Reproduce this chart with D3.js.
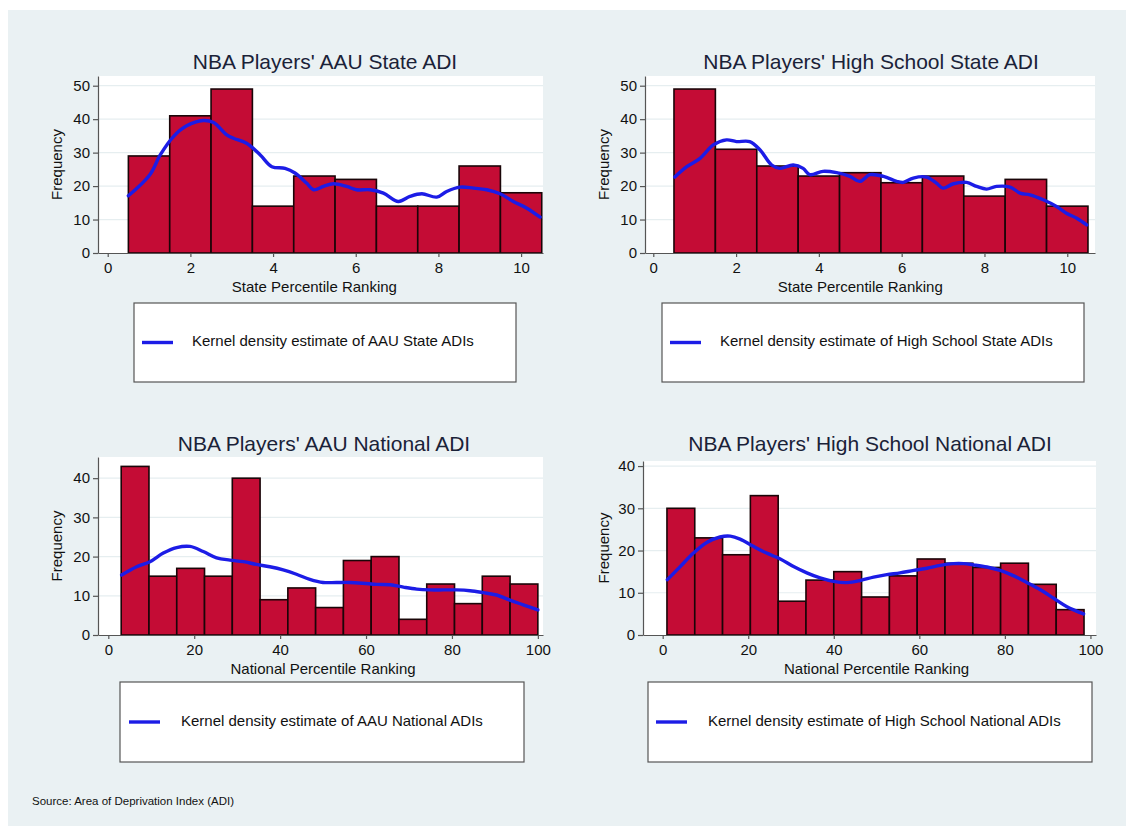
<!doctype html>
<html lang="en">
<head>
<meta charset="utf-8">
<title>NBA Players' ADI</title>
<style>
  html, body { margin: 0; padding: 0; background: #ffffff; }
  svg { display: block; font-family: "Liberation Sans", Arial, Helvetica, sans-serif; }
</style>
</head>
<body>
<svg id="chart" width="1126" height="826"></svg>
<script src="https://cdn.jsdelivr.net/npm/d3@7/dist/d3.min.js"></script>
<script>
// bin counts
var aauStateCounts = [29, 41, 49, 14, 23, 22, 14, 14, 26, 18];
var hsStateCounts  = [49, 31, 26, 23, 24, 21, 23, 17, 22, 14];
var aauNatCounts   = [43, 15, 17, 15, 40, 9, 12, 7, 19, 20, 4, 13, 8, 15, 13];
var hsNatCounts    = [30, 23, 19, 33, 8, 13, 15, 9, 14, 18, 17, 16, 17, 12, 6];

// bin ranges [first edge, last edge]
var aauStateRange = [0.5, 10.5];
var hsStateRange  = [0.5, 10.5];
var aauNatRange   = [3, 100];
var hsNatRange    = [1, 98.5];

// kernel density curves (scaled to frequency)
var aauStateKdeX = [0.5,1.02,1.27,1.59,1.91,2.31,2.56,2.88,3.04,3.36,3.69,3.97,4.29,4.53,4.81,4.98,5.22,5.46,5.78,6.02,6.35,6.67,7.03,7.31,7.6,7.96,8.2,8.52,8.85,9.17,9.49,9.81,10.14,10.46];
var aauStateKdeY = [17.1,23.4,29.3,34.8,38,39.6,39,35.3,34.3,32.8,29.3,25.8,25.3,23.9,20.9,18.9,19.9,20.7,19.9,18.9,18.9,17.9,15.4,16.9,17.7,16.7,18.4,19.7,19.4,18.9,17.7,15.4,13.4,10.7];

var hsStateKdeX = [0.52,0.81,1.13,1.45,1.77,2.01,2.33,2.58,2.86,3.06,3.38,3.62,3.78,4.1,4.43,4.75,4.99,5.23,5.56,5.88,6.04,6.28,6.6,6.84,7.0,7.25,7.57,7.81,8.05,8.29,8.62,8.86,9.1,9.42,9.74,9.98,10.23,10.47];
var hsStateKdeY = [22.7,25.8,28.3,32.3,33.8,33.3,33.3,30.8,26.3,25.3,26.3,25.3,23.4,24.4,24,22.9,21.4,23.4,22.9,21.4,21.1,22.4,22.7,20.9,19.4,20.7,21.1,19.9,19.1,19.9,19.7,17.9,17.4,15.9,13.9,11.9,10.4,8.4];

var aauNatKdeX = [3.1,6.6,9.7,12.8,15.9,19,22.1,25.2,28.3,31.4,34.5,37.6,40.7,43.8,46.9,50,53.1,56.2,59.3,62.5,65.6,68.7,71.8,74.9,78,81.1,84.2,87.3,90.4,93.5,96.6,100];
var aauNatKdeY = [15.3,17.4,18.7,20.9,22.3,22.6,21.3,19.7,19.1,18.7,18,17.4,16.6,15.5,14.2,13.4,13.4,13.4,13.2,12.9,12.8,12.2,11.7,11.5,11.5,11.5,11.3,10.8,10.2,8.9,7.7,6.4];

var hsNatKdeX = [1.1,4.1,7.2,10.3,13.4,15.8,18.1,21.2,24.3,27.5,30.6,33.7,36.8,39.9,43.1,46.2,49.3,52.4,55.5,58.7,61.8,64.9,68,70.4,72.7,75.8,78.9,82.1,85.2,88.3,91.4,94.5,98.4];
var hsNatKdeY = [13.1,16.2,19.4,21.9,23.2,23.4,22.7,21,19.4,18,16.2,14.7,13.5,12.7,12.4,12.9,13.7,14.3,14.7,15.3,15.8,16.5,16.9,16.9,16.6,16.1,15.3,14,12.4,10.7,8.7,6.7,5];

var stateTicks = [0, 2, 4, 6, 8, 10];
var natTicks = [0, 20, 40, 60, 80, 100];
var freqTicks50 = [0, 10, 20, 30, 40, 50];
var freqTicks40 = [0, 10, 20, 30, 40];

var titles = ["NBA Players' AAU State ADI", "NBA Players' High School State ADI",
              "NBA Players' AAU National ADI", "NBA Players' High School National ADI"];
var legendLabels = ["Kernel density estimate of AAU State ADIs",
                    "Kernel density estimate of High School State ADIs",
                    "Kernel density estimate of AAU National ADIs",
                    "Kernel density estimate of High School National ADIs"];

var BAR = "#c40c35", KDE = "#1c1ce6", INK = "#111", BG = "#eaf1f3";

var panels = [
  { counts: aauStateCounts, range: aauStateRange, kx: aauStateKdeX, ky: aauStateKdeY,
    xt: stateTicks, yt: freqTicks50, xlab: "State Percentile Ranking",
    box: { l: 98, r: 543, t: 76, b: 253 }, xd: [-0.235, 10.53], yd: [0, 52.9],
    titleX: 325, titleY: 69, freqX: 58,
    leg: { l: 134, r: 516, t: 303, b: 382, line: 142, text: 192 } },
  { counts: hsStateCounts, range: hsStateRange, kx: hsStateKdeX, ky: hsStateKdeY,
    xt: stateTicks, yt: freqTicks50, xlab: "State Percentile Ranking",
    box: { l: 645, r: 1095, t: 76, b: 253 }, xd: [-0.2, 10.67], yd: [0, 52.9],
    titleX: 871, titleY: 69, freqX: 605,
    leg: { l: 662, r: 1084, t: 303, b: 382, line: 670, text: 720 } },
  { counts: aauNatCounts, range: aauNatRange, kx: aauNatKdeX, ky: aauNatKdeY,
    xt: natTicks, yt: freqTicks40, xlab: "National Percentile Ranking",
    box: { l: 98, r: 543, t: 457, b: 635 }, xd: [-2.4, 101.2], yd: [0, 45.4],
    titleX: 324, titleY: 451, freqX: 58,
    leg: { l: 120, r: 524, t: 682, b: 762, line: 129, text: 181 } },
  { counts: hsNatCounts, range: hsNatRange, kx: hsNatKdeX, ky: hsNatKdeY,
    xt: natTicks, yt: freqTicks40, xlab: "National Percentile Ranking",
    box: { l: 643, r: 1096, t: 461, b: 635 }, xd: [-4.6, 101.3], yd: [0, 41.2],
    titleX: 870, titleY: 451, freqX: 605,
    leg: { l: 648, r: 1092, t: 682, b: 762, line: 656, text: 708 } }
];

var svg = d3.select("#chart");

// graph region background
svg.append("rect").attr("x", 8).attr("y", 10).attr("width", 1118).attr("height", 816).attr("fill", BG);

panels.forEach(function(p, i) {
  var x = d3.scaleLinear().domain(p.xd).range([p.box.l, p.box.r]);
  var y = d3.scaleLinear().domain(p.yd).range([p.box.b, p.box.t]);
  var g = svg.append("g");

  // plot region
  g.append("rect")
    .attr("x", p.box.l).attr("y", p.box.t)
    .attr("width", p.box.r - p.box.l).attr("height", p.box.b - p.box.t)
    .attr("fill", "#fff");

  // grid
  g.selectAll("line.grid")
    .data(p.yt.filter(function(d) { return d > 0; }))
    .enter().append("line")
    .attr("x1", p.box.l).attr("x2", p.box.r)
    .attr("y1", function(d) { return y(d); }).attr("y2", function(d) { return y(d); })
    .attr("stroke", "#e6eef0").attr("stroke-width", 1.2);

  // bars
  var w = (p.range[1] - p.range[0]) / p.counts.length;
  g.selectAll("rect.bar")
    .data(p.counts)
    .enter().append("rect")
    .attr("class", "bar")
    .attr("x", function(d, j) { return x(p.range[0] + j * w); })
    .attr("y", function(d) { return y(d); })
    .attr("width", function(d, j) { return x(p.range[0] + (j + 1) * w) - x(p.range[0] + j * w); })
    .attr("height", function(d) { return y(0) - y(d); })
    .attr("fill", BAR)
    .attr("stroke", "#1a0508")
    .attr("stroke-width", 1.6);

  // kernel density
  var pts = p.kx.map(function(v, j) { return [v, p.ky[j]]; });
  g.append("path")
    .datum(pts)
    .attr("fill", "none")
    .attr("stroke", KDE)
    .attr("stroke-width", 3.4)
    .attr("stroke-linejoin", "round")
    .attr("stroke-linecap", "round")
    .attr("d", d3.line()
      .curve(d3.curveCatmullRom)
      .x(function(d) { return x(d[0]); })
      .y(function(d) { return y(d[1]); }));

  // axes
  var ya = g.append("g")
    .attr("transform", "translate(" + p.box.l + ",0)")
    .call(d3.axisLeft(y).tickValues(p.yt).tickSize(5).tickSizeOuter(0).tickPadding(3));
  var xa = g.append("g")
    .attr("transform", "translate(0," + p.box.b + ")")
    .call(d3.axisBottom(x).tickValues(p.xt).tickSize(4).tickSizeOuter(0).tickPadding(5));
  [ya, xa].forEach(function(a) {
    a.select(".domain").attr("stroke", "#555").attr("stroke-width", 1.2);
    a.selectAll(".tick line").attr("stroke", "#555").attr("stroke-width", 1.2);
    a.selectAll(".tick text")
      .attr("fill", INK)
      .style("font-family", "'Liberation Sans', Arial, sans-serif")
      .style("font-size", "15px");
  });

  // axis titles
  g.append("text")
    .attr("x", (x(p.xt[0]) + x(p.xt[p.xt.length - 1])) / 2)
    .attr("y", p.box.b + 39)
    .attr("text-anchor", "middle")
    .attr("fill", INK)
    .style("font-size", "15px")
    .text(p.xlab);
  g.append("text")
    .attr("transform", "translate(" + p.freqX + "," + ((p.box.t + p.box.b) / 2) + ") rotate(-90)")
    .attr("text-anchor", "middle")
    .attr("dominant-baseline", "middle")
    .attr("fill", INK)
    .style("font-size", "15px")
    .text("Frequency");

  // title
  g.append("text")
    .attr("x", p.titleX).attr("y", p.titleY)
    .attr("text-anchor", "middle")
    .attr("fill", "#1a2238")
    .style("font-size", "21px")
    .text(titles[i]);

  // legend
  var L = p.leg, my = (L.t + L.b) / 2;
  g.append("rect")
    .attr("x", L.l).attr("y", L.t)
    .attr("width", L.r - L.l).attr("height", L.b - L.t)
    .attr("fill", "#fff").attr("stroke", "#555").attr("stroke-width", 1.2);
  g.append("line")
    .attr("x1", L.line).attr("x2", L.line + 31)
    .attr("y1", my).attr("y2", my)
    .attr("stroke", KDE).attr("stroke-width", 3.4);
  g.append("text")
    .attr("x", L.text).attr("y", my)
    .attr("dominant-baseline", "middle")
    .attr("fill", INK)
    .style("font-size", "15px")
    .text(legendLabels[i]);
});

svg.append("text")
  .attr("x", 32).attr("y", 802)
  .attr("dominant-baseline", "middle")
  .attr("fill", INK)
  .style("font-size", "11.5px")
  .text("Source: Area of Deprivation Index (ADI)");
</script>
</body>
</html>
